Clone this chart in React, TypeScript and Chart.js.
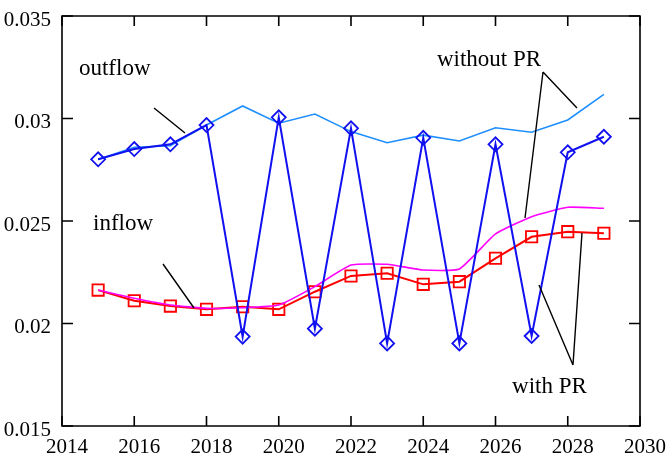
import React, { useEffect, useRef } from "react";
import { Chart, registerables } from "chart.js";

Chart.register(...registerables);

const years = [2015, 2016, 2017, 2018, 2019, 2020, 2021, 2022, 2023, 2024, 2025, 2026, 2027, 2028, 2029];
const outflowWithoutPR = [0.0280, 0.0286, 0.02867, 0.02968, 0.03061, 0.02977, 0.03022, 0.02936, 0.02882, 0.02919, 0.0289, 0.02955, 0.02933, 0.02993, 0.03118];
const outflowWithPR = [0.02801, 0.02851, 0.02874, 0.02968, 0.01936, 0.03006, 0.01975, 0.02952, 0.01903, 0.02906, 0.01903, 0.02874, 0.01939, 0.02835, 0.02911];
const inflowWithoutPR = [0.02163, 0.02123, 0.0209, 0.02074, 0.02077, 0.0209, 0.0218, 0.02285, 0.02289, 0.02261, 0.02266, 0.02437, 0.02521, 0.02567, 0.02562];
const inflowWithPR = [0.02163, 0.02111, 0.02085, 0.02069, 0.02082, 0.02069, 0.02155, 0.02232, 0.02245, 0.02191, 0.02204, 0.02318, 0.02423, 0.02448, 0.0244];

const xTicks = [2014, 2016, 2018, 2020, 2022, 2024, 2026, 2028, 2030];
const yTicks = [0.015, 0.02, 0.025, 0.03, 0.035];

// annotation texts (data coordinates, baseline-left)
const noteTexts = [
  { text: "outflow", x: 2014.47, y: 0.03212 },
  { text: "inflow", x: 2014.86, y: 0.02456 },
  { text: "without PR", x: 2024.38, y: 0.03256 },
  { text: "with PR", x: 2026.46, y: 0.01662 },
];
// leader lines (data coordinates)
const noteLines = [
  [2016.547, 0.030512, 2017.405, 0.029293],
  [2016.796, 0.022903, 2017.654, 0.020756],
  [2027.315, 0.032268, 2028.256, 0.030512],
  [2027.315, 0.032268, 2026.817, 0.025146],
  [2028.145, 0.017976, 2027.204, 0.021878],
  [2028.145, 0.017976, 2028.394, 0.024415],
];

const FONT = "'Liberation Serif', 'Times New Roman', serif";

const pts = (ys: number[]) => years.map((x, i) => ({ x, y: ys[i] }));

const framePlugin = {
  id: "framePlugin",
  afterDraw(chart: any) {
    const { ctx, chartArea: a, scales } = chart;
    const xs = scales.x;
    const ys = scales.y;
    ctx.save();
    ctx.strokeStyle = "#000";
    ctx.lineWidth = 1.6;
    ctx.beginPath();
    ctx.rect(a.left, a.top, a.right - a.left, a.bottom - a.top);
    ctx.stroke();
    ctx.beginPath();
    xTicks.forEach((t) => {
      const px = xs.getPixelForValue(t);
      ctx.moveTo(px, a.bottom);
      ctx.lineTo(px, a.bottom - 10);
      ctx.moveTo(px, a.top);
      ctx.lineTo(px, a.top + 10);
    });
    yTicks.forEach((t) => {
      const py = ys.getPixelForValue(t);
      ctx.moveTo(a.left, py);
      ctx.lineTo(a.left + 11, py);
      ctx.moveTo(a.right, py);
      ctx.lineTo(a.right - 11, py);
    });
    ctx.stroke();
    // leader lines
    ctx.lineWidth = 1.4;
    ctx.beginPath();
    noteLines.forEach(([x1, y1, x2, y2]) => {
      ctx.moveTo(xs.getPixelForValue(x1), ys.getPixelForValue(y1));
      ctx.lineTo(xs.getPixelForValue(x2), ys.getPixelForValue(y2));
    });
    ctx.stroke();
    ctx.fillStyle = "#000";
    ctx.font = "23px " + FONT;
    ctx.textAlign = "left";
    ctx.textBaseline = "alphabetic";
    noteTexts.forEach((n) => {
      ctx.fillText(n.text, xs.getPixelForValue(n.x), ys.getPixelForValue(n.y));
    });
    ctx.restore();
  },
};

export default function App() {
  const ref = useRef<HTMLCanvasElement | null>(null);
  useEffect(() => {
    if (!ref.current) return;
    const chart = new Chart(ref.current, {
      type: "line",
      data: {
        datasets: [
          {
            label: "outflow with PR",
            data: pts(outflowWithPR),
            borderColor: "#1010f0",
            borderWidth: 2,
            pointStyle: "rectRot",
            pointRadius: 7,
            pointBorderWidth: 1.8,
            pointBorderColor: "#1010f0",
            pointBackgroundColor: "rgba(0,0,0,0)",
            tension: 0,
            order: 0,
          },
          {
            label: "inflow without PR",
            data: pts(inflowWithoutPR),
            borderColor: "#ff00ff",
            borderWidth: 1.6,
            pointRadius: 0,
            tension: 0.15,
            order: 1,
          },
          {
            label: "outflow without PR",
            data: pts(outflowWithoutPR),
            borderColor: "#1e8fff",
            borderWidth: 1.6,
            pointRadius: 0,
            tension: 0,
            order: 2,
          },
          {
            label: "inflow with PR",
            data: pts(inflowWithPR),
            borderColor: "#ff0000",
            borderWidth: 2,
            pointStyle: "rect",
            pointRadius: 8,
            pointBorderWidth: 1.8,
            pointBorderColor: "#ff0000",
            pointBackgroundColor: "rgba(0,0,0,0)",
            tension: 0,
            order: 3,
          },
        ],
      },
      options: {
        animation: false,
        responsive: true,
        maintainAspectRatio: false,
        layout: { padding: { top: 16, right: 28, left: 0, bottom: 0 } },
        plugins: { legend: { display: false }, tooltip: { enabled: false } },
        scales: {
          x: {
            type: "linear",
            min: 2014,
            max: 2030,
            grid: { display: false },
            border: { display: false },
            ticks: {
              stepSize: 2,
              color: "#000",
              font: { family: FONT, size: 21 },
              padding: 1,
              labelOffset: 5,
              maxRotation: 0,
              autoSkip: false,
              callback: (v: any) => String(v),
            },
            afterFit: (s: any) => {
              s.height = 31;
            },
          },
          y: {
            type: "linear",
            min: 0.015,
            max: 0.035,
            grid: { display: false },
            border: { display: false },
            ticks: {
              stepSize: 0.005,
              color: "#000",
              font: { family: FONT, size: 21 },
              padding: 3,
              labelOffset: 4,
              callback: (v: any) => String(parseFloat(Number(v).toFixed(3))),
            },
            afterFit: (s: any) => {
              s.width = 62;
            },
          },
        },
      },
      plugins: [framePlugin],
    });
    return () => chart.destroy();
  }, []);
  return (
    <div style={{ position: "fixed", left: 0, top: 0, width: 668, height: 457, background: "#fff" }}>
      <canvas ref={ref} />
    </div>
  );
}
